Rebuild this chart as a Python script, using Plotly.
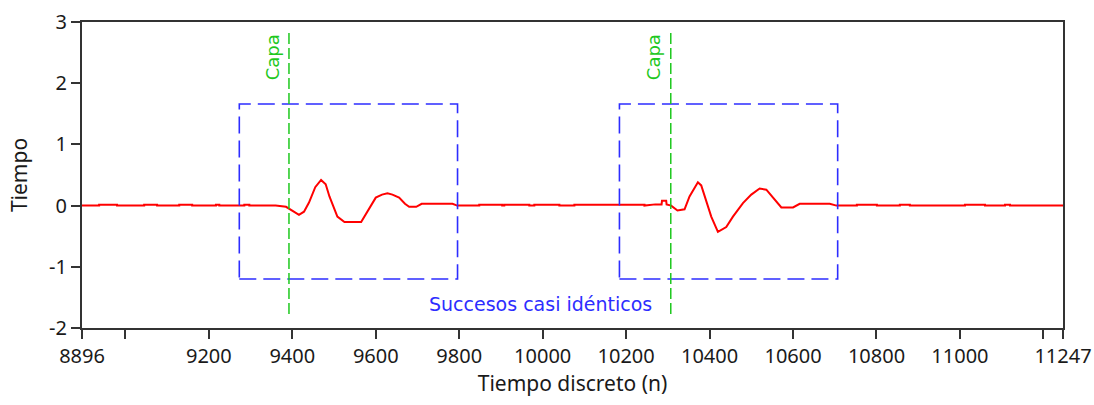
import plotly.graph_objects as go

# ---------------- data ----------------
# baseline (quiet) segments: small quantisation blips above zero
blip_start = [8937, 9045, 9129, 9217, 9285, 9848, 9908, 9980, 10076, 10753, 10856, 11012, 11108]
blip_end   = [8980, 9076, 9160, 9225, 9297, 9903, 9968, 10040, 10244, 10801, 10880, 11060, 11120]
blip_level = [0.015, 0.015, 0.015, 0.015, 0.015, 0.015, 0.015, 0.015, 0.015, 0.015, 0.015, 0.015, 0.015]

# event 1 (n, value)
ev1_n = [9360, 9385, 9400, 9416, 9428, 9440, 9455, 9469, 9480, 9489, 9508, 9525, 9565,
         9580, 9600, 9615, 9628, 9640, 9656, 9670, 9680, 9697, 9710, 9784, 9795]
ev1_y = [0.0, -0.02, -0.08, -0.15, -0.10, 0.05, 0.30, 0.42, 0.35, 0.15, -0.18, -0.27, -0.27,
         -0.10, 0.13, 0.18, 0.20, 0.18, 0.13, 0.03, -0.02, -0.02, 0.03, 0.03, 0.0]

# event 2 (n, value)
ev2_n = [10270, 10285, 10286, 10296, 10297, 10308, 10323, 10340, 10352, 10372, 10380, 10392,
         10404, 10420, 10440, 10456, 10480, 10500, 10520, 10536, 10556, 10572, 10600,
         10616, 10688, 10704]
ev2_y = [0.02, 0.02, 0.08, 0.08, 0.02, 0.0, -0.08, -0.06, 0.15, 0.38, 0.33, 0.09,
         -0.18, -0.43, -0.35, -0.18, 0.04, 0.18, 0.28, 0.26, 0.09, -0.03, -0.03,
         0.03, 0.03, 0.0]

x_start, x_end = 8896, 11247
capa_n = [9392, 10307]
capa_y = [2.82, -1.83]
box_n0 = [9273, 10184]
box_n1 = [9796, 10707]
box_y = [-1.2, 1.66]

x_tickvals = [8896, 9000, 9200, 9400, 9600, 9800, 10000, 10200, 10400, 10600, 10800, 11000, 11200, 11247]
x_ticktext = ["8896", "", "9200", "9400", "9600", "9800", "10000", "10200", "10400", "10600",
              "10800", "11000", "", "11247"]
y_tickvals = [-2, -1, 0, 1, 2, 3]
y_ticktext = ["-2", "-1", "0", "1", "2", "3"]

# ---------------- build signal ----------------
pts = [(x_start, 0.0)]
for a, b, h in zip(blip_start, blip_end, blip_level):
    pts += [(a, 0.0), (a, h), (b, h), (b, 0.0)]
pts += list(zip(ev1_n, ev1_y))
pts += list(zip(ev2_n, ev2_y))
pts.append((x_end, 0.0))
pts.sort(key=lambda p: p[0])
sig_n = [p[0] for p in pts]
sig_y = [p[1] for p in pts]

RED = "#ff0000"
BLUE = "#2d2dff"
GREEN = "#1ec81e"
AX = "#333333"
TXT = "#1a1a1a"

fig = go.Figure()
fig.add_trace(go.Scatter(x=sig_n, y=sig_y, mode="lines",
                         line=dict(color=RED, width=2), hoverinfo="skip", showlegend=False))

for a, b in zip(box_n0, box_n1):
    fig.add_shape(type="rect", x0=a, x1=b, y0=box_y[0], y1=box_y[1], xref="x", yref="y",
                  line=dict(color=BLUE, width=1.6, dash="17px,7px"))
for c in capa_n:
    fig.add_shape(type="line", x0=c, x1=c, y0=capa_y[0], y1=capa_y[1], xref="x", yref="y",
                  line=dict(color=GREEN, width=1.5, dash="11px,4px"))
    fig.add_annotation(x=c, y=2.43, xref="x", yref="y", text="Capa", textangle=-90,
                       showarrow=False, xanchor="right", xshift=-4,
                       font=dict(family="DejaVu Sans", size=18, color=GREEN))

fig.add_annotation(x=(box_n1[0] + box_n0[1]) / 2 + 4, y=-1.6, xref="x", yref="y",
                   text="Succesos casi idénticos", showarrow=False,
                   font=dict(family="DejaVu Sans", size=19, color=BLUE))

axis_common = dict(showline=True, linecolor=AX, linewidth=2, mirror=True,
                   ticks="outside", ticklen=9, tickwidth=2, tickcolor=AX,
                   showgrid=False, zeroline=False,
                   tickfont=dict(family="Noto Sans", size=20, color=TXT))

fig.update_xaxes(range=[x_start, x_end], tickmode="array", tickvals=x_tickvals,
                 ticktext=x_ticktext,
                 title=dict(text="Tiempo discreto (n)", standoff=6,
                            font=dict(family="Noto Sans", size=21, color=TXT)),
                 **axis_common)
fig.update_yaxes(range=[-2, 3], tickmode="array", tickvals=y_tickvals, ticktext=y_ticktext,
                 title=dict(text="Tiempo", standoff=16,
                            font=dict(family="Noto Sans", size=21, color=TXT)),
                 **axis_common)

fig.update_layout(width=1094, height=405,
                  margin=dict(l=82, r=31, t=22, b=77, autoexpand=False),
                  paper_bgcolor="white", plot_bgcolor="white", showlegend=False)

fig.write_html("out.html")
